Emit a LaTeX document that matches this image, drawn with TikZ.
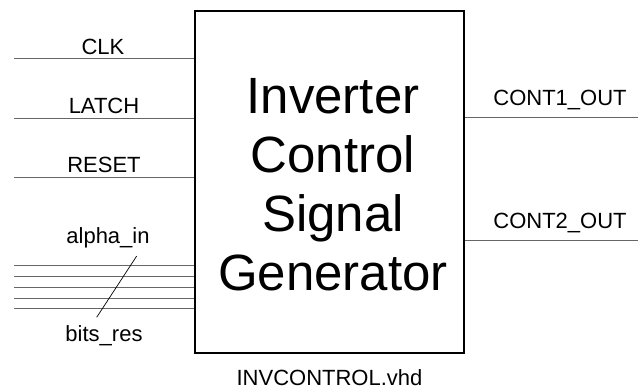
\documentclass[tikz,border=0pt]{standalone}
\usepackage{fontspec}
\setmainfont{Liberation Sans}
\begin{document}
\begin{tikzpicture}[x=1pt,y=-1pt,
  sig/.style={draw=black!60,line width=1pt},
  lbl/.style={inner sep=0pt,font=\fontsize{22}{22}\selectfont},
  blk/.style={draw=black,line width=2pt,minimum width=269pt,minimum height=342pt,inner sep=0pt}]
\useasboundingbox (0,0) rectangle (638,391);
\node[blk] (box) at (329.5,182) {};
\node[inner sep=0pt,align=center,font=\fontsize{51}{59}\selectfont] (title) at (333,185) {Inverter\\Control\\Signal\\Generator};
\node[lbl] (file) at (329.5,378) {INVCONTROL.vhd};
% inputs
\coordinate (clkin) at (14,58.3);
\coordinate (latchin) at (14,118.3);
\coordinate (resetin) at (14,177.7);
\draw[sig] (clkin) -- (clkin -| box.west);
\draw[sig] (latchin) -- (latchin -| box.west);
\draw[sig] (resetin) -- (resetin -| box.west);
\node[lbl] (clk) at (103,46.7) {CLK};
\node[lbl] (latch) at (104,106) {LATCH};
\node[lbl] (reset) at (104,165) {RESET};
% bus
\foreach \i/\y in {1/265.7,2/276.7,3/287.3,4/298,5/308.7}{
  \coordinate (bus\i) at (14,\y);
  \draw[sig] (bus\i) -- (bus\i -| box.west);
}
\node[lbl] (alpha) at (108,238) {alpha\_in};
\node[lbl] (bits) at (104,336) {bits\_res};
\coordinate (s1) at (136.7,256);
\coordinate (s2) at (96.7,317.3);
\draw[black,line width=0.7pt] (s1) -- (s2);
% outputs
\coordinate (c1out) at (638,117.7);
\coordinate (c2out) at (638,240.7);
\draw[sig] (c1out -| box.east) -- (c1out);
\draw[sig] (c2out -| box.east) -- (c2out);
\node[lbl] (c1) at (560,100) {CONT1\_OUT};
\node[lbl] (c2) at (560,223) {CONT2\_OUT};
\end{tikzpicture}
\end{document}
